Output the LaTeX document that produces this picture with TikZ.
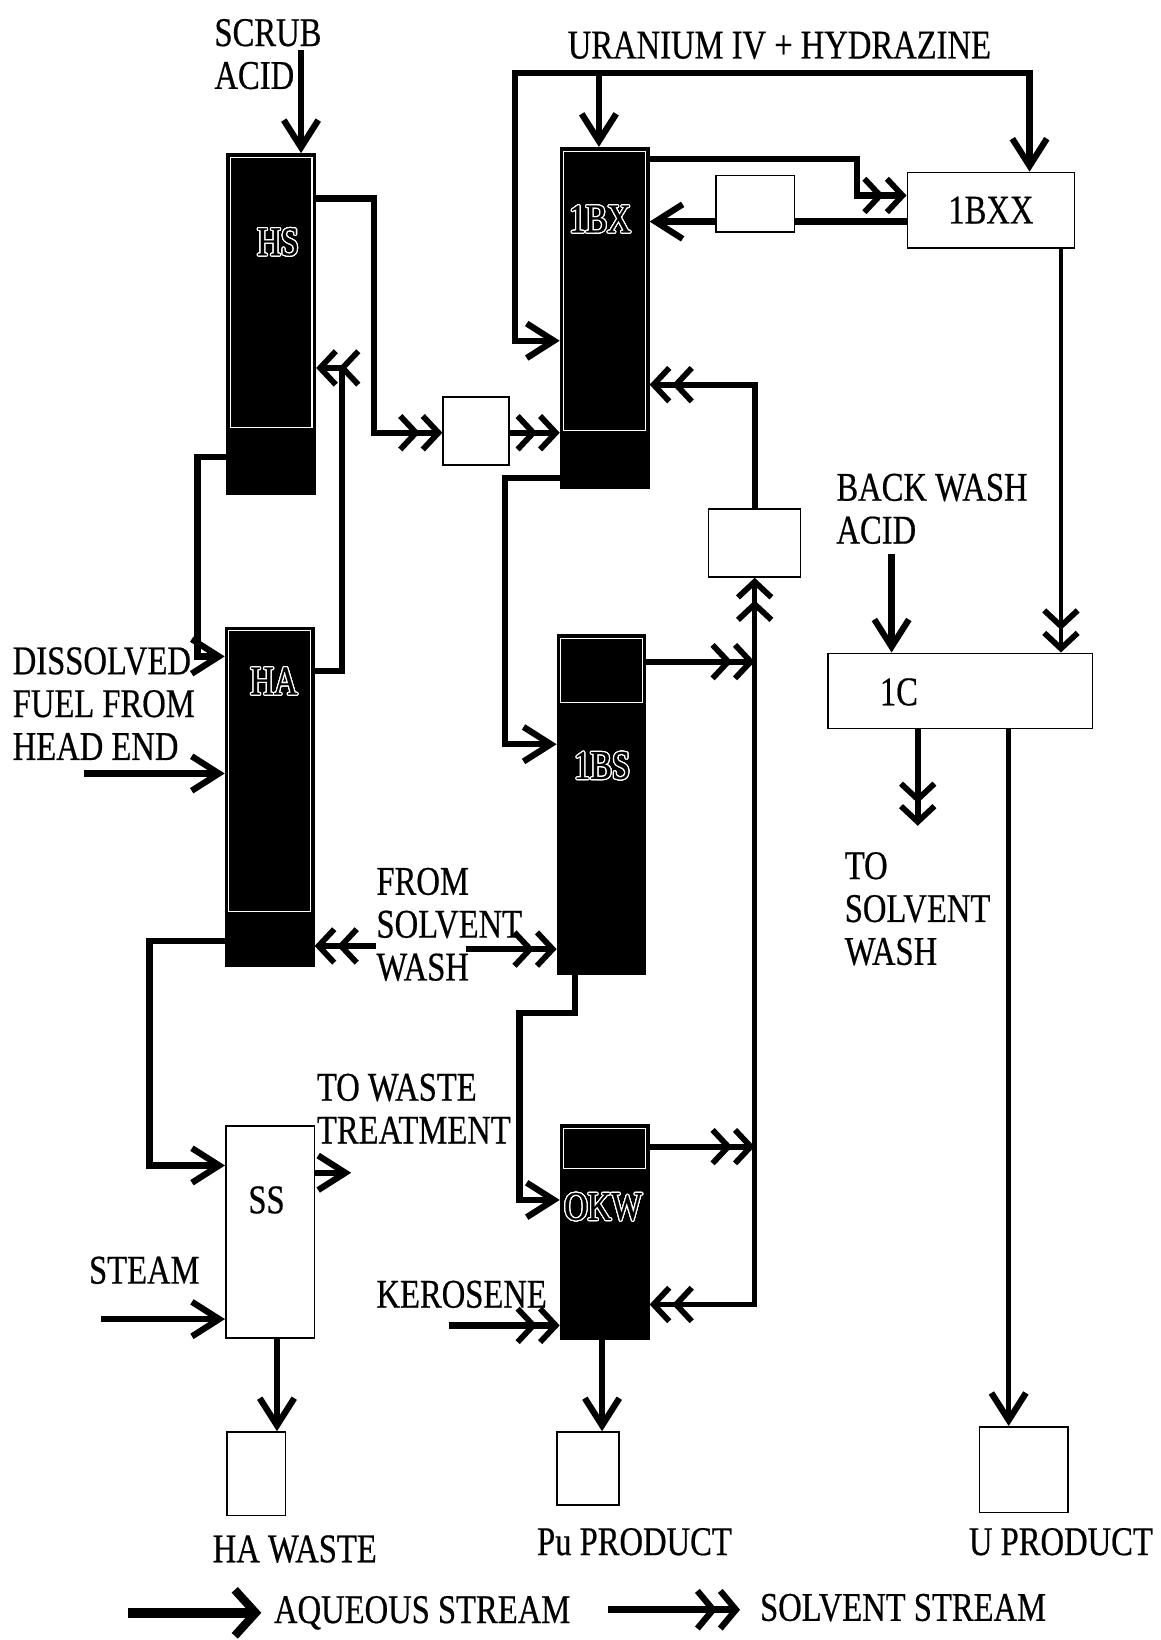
\documentclass[tikz,border=0pt]{standalone}
\usepackage{fontspec}
\setmainfont{Liberation Serif}[FakeStretch=0.8, FakeBold=0.5]
\usepackage{contour}
\usetikzlibrary{arrows.meta, positioning, calc}
\contourlength{1.2pt}
\newcommand{\flowfont}{\fontsize{39}{41}\selectfont}

\begin{document}
\begin{tikzpicture}[
  x=1pt, y=-1pt,
  colbox/.style   = {rectangle, draw=black, fill=black, line width=1pt,
                     minimum width=85pt, inner sep=0pt},
  vessel/.style   = {rectangle, draw=black, fill=white, line width=1.5pt,
                     inner sep=0pt, font=\flowfont},
  colname/.style  = {font=\flowfont, inner sep=0pt},
  note/.style     = {font=\flowfont, inner sep=0pt, align=left, anchor=north west},
  liner/.style    = {draw=white, line width=1pt},
  pipe/.style     = {line width=6pt},
  aqtip/.tip      = {Straight Barb[length=26pt, width=33pt, line width=6pt]},
  svtip/.tip      = {Straight Barb[length=15pt, width=32pt, line width=5.5pt]
                     Straight Barb[length=15pt, width=32pt, line width=5.5pt]},
  aq/.style       = {pipe, -aqtip},
  aq2/.style      = {pipe, aqtip-aqtip},
  sv/.style       = {pipe, -svtip},
  sv2/.style      = {pipe, svtip-svtip},
]

\fill[white] (0,0) rectangle (1110,1568);

%% extraction columns
\node[colbox, minimum height=326pt] (hs)  at (259.5,310)   {};
\node[colbox, minimum height=326pt] (ibx) at (578.5,304)   {};
\node[colbox, minimum height=325pt] (ha)  at (258,762.5)   {};
\node[colbox, minimum height=325pt] (ibs) at (575.5,769.5) {};
\node[colbox, minimum height=205pt] (okw) at (578.5,1178.5) {};

\foreach \c/\b in {hs/409, ibx/412, ha/872, ibs/672, okw/1118}
  \draw[liner] ($(\c.north west)+(4,4)$) rectangle ($(\c.east |- 0,\b)+(-4,0)$);

\node[colname] (hsname)  at (266,232)  {\contour{white}{HS}};
\node[colname] (ibxname) at (574,210)  {\contour{white}{1BX}};
\node[colname] (haname)  at (262,652)  {\contour{white}{HA}};
\node[colname] (ibsname) at (576,733)  {\contour{white}{1BS}};
\node[colname] (okwname) at (577,1155) {\contour{white}{OKW}};

%% vessels and tanks
\node[vessel, minimum width=85pt,  minimum height=203pt] (ss)   at (258.5,1178.5) {};
\node[colname] (ssname) at (255,1148) {SS};
\node[vessel, minimum width=63pt,  minimum height=65pt]  (boxa) at (455.5,412.5) {};
\node[vessel, minimum width=75pt,  minimum height=54pt]  (boxb) at (722.5,195)   {};
\node[vessel, minimum width=88pt,  minimum height=65pt]  (boxc) at (722,519.5)   {};
\node[vessel, minimum width=160pt, minimum height=72pt]  (ibxx) at (948,201)     {1BXX};
\node[vessel, minimum width=253pt, minimum height=72pt]  (ic)   at (918.5,661)   {};
\node[colname] (icname) at (860,662) {1C};

\node[vessel, minimum width=56pt, minimum height=80pt] (hawaste) at (245,1410)   {};
\node[vessel, minimum width=59pt, minimum height=70pt] (puprod)  at (562.5,1405) {};
\node[vessel, minimum width=85pt, minimum height=82pt] (uprod)   at (979.5,1406) {};
\node[colname] (hawastelbl) at (282,1482)  {HA WASTE};
\node[colname] (puprodlbl)  at (607,1475)  {Pu PRODUCT};
\node[colname] (uprodlbl)   at (1015,1475) {U PRODUCT};

%% stream labels
\node[note] (scrublbl) at (205,18)   {SCRUB\\ACID};
\node[note] (urlbl)    at (543,30)   {URANIUM IV + HYDRAZINE};
\node[note] (bwlbl)    at (800,453)  {BACK WASH\\ACID};
\node[note] (dflbl)    at (12,619)   {DISSOLVED\\FUEL FROM\\HEAD END};
\node[note] (fswlbl)   at (360,830)  {FROM\\SOLVENT\\WASH};
\node[note] (tswlbl)   at (808,815)  {TO\\SOLVENT\\WASH};
\node[note] (twtlbl)   at (303,1027) {TO WASTE\\TREATMENT};
\node[note] (steamlbl) at (85,1202)  {STEAM};
\node[note] (kerlbl)   at (360,1225) {KEROSENE};

%% free ends and bends
\coordinate (scrubin) at (288,48);
\coordinate (utl)     at (493,70);
\coordinate (utr)     at (985,70);
\coordinate (uin)     at (573,70);
\coordinate (bwin)    at (853,530);
\coordinate (tosw)    at (878,790);
\coordinate (dfin)    at (80,740);
\coordinate (fswl)    at (360,905);
\coordinate (fswr)    at (446,908);
\coordinate (towt)    at (336,1122);
\coordinate (steamin) at (97,1262);
\coordinate (kerin)   at (430,1268);
\coordinate (recyc)   at (722,1248);
\coordinate (bend1)   at (820,187);
\coordinate (bend2)   at (358,414);
\coordinate (bend3)   at (483,712);
\coordinate (bend4)   at (189,628);
\coordinate (bend5)   at (327,352);
\coordinate (bend6)   at (143,1115);
\coordinate (bend7)   at (497,969);

%% feeds
\draw[aq] (scrubin) -- (hs.north -| scrubin);
\draw[aq2] (ibx.west |- 0,326) -| (utl) -| (ibxx.north -| utr);
\draw[aq] (uin) -- (ibx.north -| uin);
\draw[aq] (bwin) -- (ic.north -| bwin);
\draw[aq] (dfin) -- (ha.west |- dfin);
\draw[aq] (steamin) -- (ss.west |- steamin);
\draw[sv] (kerin) -- (okw.west |- kerin);
\draw[sv] (fswl) -- (ha.east |- fswl);
\draw[sv] (fswr) -- (ibs.west |- fswr);

%% HA / HS
\draw[aq] (hs.west |- 0,437) -| (bend4) -- (ha.west |- bend4);
\draw[sv] (ha.east |- 0,642) -| (bend5) -- (hs.east |- bend5);
\draw[sv] (hs.east |- 0,190) -| (bend2) -- (boxa.west |- bend2);
\draw[sv] (boxa.east |- bend2) -- (ibx.west |- bend2);
\draw[aq] (ha.west |- 0,900) -| (bend6) -- (ss.west |- bend6);
\draw[aq] (ss.east |- towt) -- (towt);
\draw[aq] (ss.south -| 265,0) -- (hawaste.north -| 265,0);

%% 1BX / 1BXX / 1C
\draw[sv] (ibx.east |- 0,152) -| (bend1) -- (ibxx.west |- bend1);
\draw[pipe] (ibxx.west |- 0,212) -- (boxb.east |- 0,212);
\draw[aq] (boxb.west |- 0,212) -- (ibx.east |- 0,212);
\draw[sv, line width=4.5pt] (ibxx.south -| 1015,0) -- (ic.north -| 1015,0);
\draw[sv] (ic.south -| tosw) -- (tosw);
\draw[aq, line width=5pt] (ic.south -| 965,0) -- (uprod.north -| 965,0);

%% 1BS / OKW
\draw[aq] (ibx.west |- 0,457) -| (bend3) -- (ibs.west |- bend3);
\draw[sv] (boxc.north) |- (ibx.east |- 0,368);
\draw[sv2, line width=5pt] (boxc.south) |- (okw.east |- recyc);
\draw[sv] (ibs.east |- 0,633) -- (recyc |- 0,633);
\draw[sv] (okw.east |- 0,1097) -- (recyc |- 0,1097);
\draw[aq] (ibs.south -| 550,0) |- (bend7) |- (okw.west |- 0,1148);
\draw[aq] (okw.south -| 576,0) -- (puprod.north -| 576,0);

%% legend
\coordinate (aqa) at (122,1543);
\coordinate (aqb) at (250,1543);
\coordinate (sva) at (582,1540);
\coordinate (svb) at (708,1540);
\draw[line width=9pt, -{Straight Barb[length=20pt, width=44pt, line width=8pt]}] (aqa) -- (aqb);
\draw[line width=7pt, -{Straight Barb[length=15pt, width=36pt, line width=6pt]
                        Straight Barb[length=15pt, width=36pt, line width=6pt]}] (sva) -- (svb);
\node[colname, anchor=west] (aqlbl) at (262,1543) {AQUEOUS STREAM};
\node[colname, anchor=west] (svlbl) at (727,1538) {SOLVENT STREAM};

\end{tikzpicture}
\end{document}
